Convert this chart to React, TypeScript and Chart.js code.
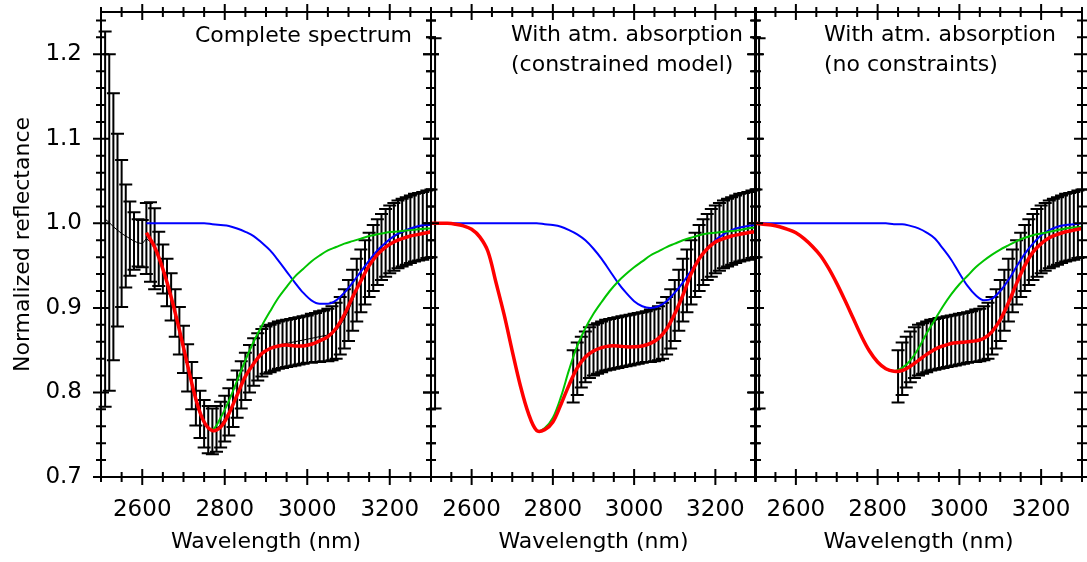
import React, { useEffect, useRef } from "react";
import { Chart, registerables } from "chart.js";

Chart.register(...registerables);
Chart.defaults.font.family = "'DejaVu Sans', sans-serif";
Chart.defaults.color = "#000";

const W = 1087;
const H = 562;

// Axis ranges and ticks
const X_MIN = 2500;
const X_MAX = 3300;
const Y_MIN = 0.7;
const Y_MAX = 1.25;
const X_LABEL_TICKS = [2600, 2800, 3000, 3200];
const X_MINOR_TICKS = [2500, 2550, 2650, 2700, 2750, 2850, 2900, 2950, 3050, 3100, 3150, 3250, 3300];
const Y_LABEL_TICKS = [0.7, 0.8, 0.9, 1.0, 1.1, 1.2];
const Y_MINOR_TICKS = [0.72, 0.74, 0.76, 0.78, 0.82, 0.84, 0.86, 0.88, 0.92, 0.94, 0.96, 0.98,
  1.02, 1.04, 1.06, 1.08, 1.12, 1.14, 1.16, 1.18, 1.22, 1.24];

// Complete spectrum (panel 1): wavelength, mean, 1-sigma error
const SPEC_WL = [
  2510, 2520, 2530, 2540, 2550, 2560, 2570, 2580, 2590, 2600,
  2610, 2620, 2630, 2640, 2650, 2660, 2670, 2680, 2690, 2700,
  2710, 2720, 2730, 2740, 2750, 2760, 2770, 2780, 2790, 2800,
  2810, 2820, 2830, 2840, 2850, 2860, 2870, 2880, 2890, 2900,
  2910, 2920, 2930, 2940, 2950, 2960, 2970, 2980, 2990, 3000,
  3010, 3020, 3030, 3040, 3050, 3060, 3070, 3080, 3090, 3100,
  3110, 3120, 3130, 3140, 3150, 3160, 3170, 3180, 3190, 3200,
  3210, 3220, 3230, 3240, 3250, 3260, 3270, 3280, 3290, 3300,
];
const SPEC_MEAN = [
  1.005, 1.001, 0.996, 0.992, 0.988, 0.985, 0.982, 0.979, 0.977, 0.976,
  0.982, 0.978, 0.970, 0.958, 0.946, 0.930, 0.913, 0.894, 0.873, 0.851,
  0.829, 0.808, 0.789, 0.774, 0.763, 0.756, 0.754, 0.757, 0.762, 0.769,
  0.777, 0.787, 0.798, 0.809, 0.819, 0.828, 0.836, 0.842, 0.847, 0.850,
  0.852, 0.854, 0.856, 0.857, 0.858, 0.859, 0.860, 0.861, 0.862, 0.863,
  0.864, 0.865, 0.866, 0.867, 0.868, 0.870, 0.873, 0.879, 0.887, 0.897,
  0.909, 0.921, 0.932, 0.942, 0.951, 0.959, 0.966, 0.972, 0.977, 0.981,
  0.984, 0.987, 0.989, 0.991, 0.993, 0.995, 0.996, 0.997, 0.999, 1.000,
];
const SPEC_ERR = [
  0.222, 0.199, 0.158, 0.114, 0.087, 0.061, 0.044, 0.034, 0.028, 0.028,
  0.042, 0.047, 0.048, 0.032, 0.029, 0.028, 0.028, 0.028, 0.028, 0.028,
  0.028, 0.028, 0.028, 0.028, 0.028, 0.028, 0.027, 0.027, 0.027, 0.027,
  0.028, 0.028, 0.028, 0.028, 0.028, 0.028, 0.028, 0.028, 0.028, 0.028,
  0.028, 0.028, 0.028, 0.028, 0.028, 0.028, 0.028, 0.028, 0.028, 0.028,
  0.029, 0.029, 0.030, 0.030, 0.031, 0.032, 0.033, 0.034, 0.035, 0.036,
  0.036, 0.037, 0.037, 0.038, 0.038, 0.039, 0.039, 0.039, 0.040, 0.040,
  0.040, 0.040, 0.040, 0.040, 0.040, 0.040, 0.040, 0.040, 0.040, 0.040,
];

// Spectrum with atmospheric absorption region removed (panels 2 and 3)
const ATM_WL = [
  2510,
  2850, 2860, 2870, 2880, 2890, 2900, 2910, 2920, 2930, 2940,
  2950, 2960, 2970, 2980, 2990, 3000, 3010, 3020, 3030, 3040,
  3050, 3060, 3070, 3080, 3090, 3100, 3110, 3120, 3130, 3140,
  3150, 3160, 3170, 3180, 3190, 3200, 3210, 3220, 3230, 3240,
  3250, 3260, 3270, 3280, 3290, 3300,
];
const ATM_MEAN = [
  1.000,
  0.819, 0.828, 0.836, 0.842, 0.847, 0.850, 0.852, 0.854, 0.856, 0.857,
  0.858, 0.859, 0.860, 0.861, 0.862, 0.863, 0.864, 0.865, 0.866, 0.867,
  0.868, 0.870, 0.873, 0.879, 0.887, 0.897, 0.909, 0.921, 0.932, 0.942,
  0.951, 0.959, 0.966, 0.972, 0.977, 0.981, 0.984, 0.987, 0.989, 0.991,
  0.993, 0.995, 0.996, 0.997, 0.999, 1.000,
];
const ATM_ERR = [
  0.219,
  0.031, 0.031, 0.030, 0.030, 0.030, 0.030, 0.030, 0.030, 0.030, 0.030,
  0.030, 0.030, 0.030, 0.030, 0.030, 0.030, 0.030, 0.030, 0.030, 0.031,
  0.031, 0.032, 0.033, 0.034, 0.035, 0.036, 0.036, 0.037, 0.037, 0.038,
  0.038, 0.039, 0.039, 0.039, 0.040, 0.040, 0.040, 0.040, 0.040, 0.040,
  0.040, 0.040, 0.040, 0.040, 0.040, 0.040,
];

// Model curves, panel 1
const M1_WL = [
  2610, 2630, 2650, 2670, 2690, 2710, 2730, 2750, 2770, 2790,
  2810, 2830, 2850, 2870, 2890, 2910, 2930, 2950, 2970, 2990,
  3010, 3030, 3050, 3070, 3090, 3110, 3130, 3150, 3170, 3190,
  3210, 3230, 3250, 3270, 3290, 3300,
];
const RED1 = [
  0.989, 0.972, 0.946, 0.913, 0.874, 0.832, 0.792, 0.765, 0.755, 0.759,
  0.775, 0.797, 0.819, 0.834, 0.846, 0.852, 0.855, 0.856, 0.855, 0.855,
  0.857, 0.861, 0.866, 0.876, 0.892, 0.913, 0.932, 0.950, 0.963, 0.972,
  0.978, 0.982, 0.985, 0.987, 0.989, 0.990,
];
const GREEN1 = [
  0.989, 0.972, 0.946, 0.913, 0.874, 0.832, 0.792, 0.765, 0.756, 0.770,
  0.790, 0.814, 0.838, 0.860, 0.879, 0.896, 0.912, 0.925, 0.937, 0.946,
  0.955, 0.962, 0.968, 0.972, 0.976, 0.979, 0.982, 0.985, 0.987, 0.989,
  0.990, 0.991, 0.992, 0.993, 0.994, 0.994,
];
const BLUE1 = [
  1.000, 1.000, 1.000, 1.000, 1.000, 1.000, 1.000, 1.000, 0.999, 0.998,
  0.997, 0.994, 0.990, 0.985, 0.977, 0.968, 0.956, 0.943, 0.930, 0.918,
  0.909, 0.905, 0.905, 0.909, 0.918, 0.930, 0.943, 0.956, 0.968, 0.977,
  0.985, 0.990, 0.994, 0.997, 0.998, 0.998,
];

// Model curves, panels 2 and 3
const M_WL = [
  2500, 2520, 2540, 2560, 2580, 2600, 2620, 2640, 2660, 2680,
  2700, 2720, 2740, 2760, 2780, 2800, 2820, 2840, 2860, 2880,
  2900, 2920, 2940, 2960, 2980, 3000, 3020, 3040, 3060, 3080,
  3100, 3120, 3140, 3160, 3180, 3200, 3220, 3240, 3260, 3280,
  3300,
];
const RED2 = [
  1.000, 1.000, 1.000, 0.999, 0.997, 0.993, 0.984, 0.967, 0.930, 0.892,
  0.849, 0.808, 0.775, 0.755, 0.756, 0.765, 0.786, 0.809, 0.829, 0.842,
  0.849, 0.853, 0.855, 0.855, 0.854, 0.854, 0.855, 0.858, 0.864, 0.875,
  0.893, 0.915, 0.940, 0.958, 0.970, 0.978, 0.982, 0.985, 0.987, 0.989,
  0.990,
];
const GREEN2 = [
  1.000, 1.000, 1.000, 0.999, 0.997, 0.993, 0.984, 0.967, 0.930, 0.892,
  0.849, 0.808, 0.775, 0.755, 0.758, 0.770, 0.795, 0.827, 0.855, 0.876,
  0.893, 0.907, 0.920, 0.931, 0.940, 0.948, 0.955, 0.962, 0.967, 0.972,
  0.976, 0.980, 0.983, 0.986, 0.988, 0.989, 0.990, 0.991, 0.992, 0.994,
  0.995,
];
const BLUE2 = [
  1.000, 1.000, 1.000, 1.000, 1.000, 1.000, 1.000, 1.000, 1.000, 1.000,
  1.000, 1.000, 1.000, 1.000, 0.999, 0.998, 0.996, 0.992, 0.987, 0.980,
  0.970, 0.958, 0.944, 0.930, 0.918, 0.908, 0.902, 0.900, 0.902, 0.908,
  0.918, 0.930, 0.944, 0.958, 0.970, 0.980, 0.987, 0.992, 0.995, 0.997,
  0.998,
];
const RED3 = [
  1.000, 0.999, 0.998, 0.996, 0.993, 0.989, 0.982, 0.973, 0.962, 0.947,
  0.929, 0.909, 0.888, 0.867, 0.849, 0.836, 0.828, 0.825, 0.826, 0.831,
  0.838, 0.845, 0.851, 0.855, 0.858, 0.859, 0.860, 0.861, 0.864, 0.872,
  0.886, 0.906, 0.929, 0.950, 0.966, 0.976, 0.983, 0.987, 0.990, 0.992,
  0.994,
];
const GREEN3 = [
  1.000, 0.999, 0.998, 0.996, 0.993, 0.989, 0.982, 0.973, 0.962, 0.947,
  0.929, 0.909, 0.888, 0.867, 0.849, 0.836, 0.828, 0.825, 0.829, 0.838,
  0.852, 0.870, 0.886, 0.902, 0.916, 0.928, 0.938, 0.948, 0.956, 0.963,
  0.969, 0.974, 0.979, 0.983, 0.986, 0.988, 0.990, 0.992, 0.994, 0.995,
  0.996,
];
const BLUE3 = [
  1.000, 1.000, 1.000, 1.000, 1.000, 1.000, 1.000, 1.000, 1.000, 1.000,
  1.000, 1.000, 1.000, 1.000, 1.000, 1.000, 1.000, 0.999, 0.999, 0.997,
  0.994, 0.989, 0.982, 0.970, 0.957, 0.941, 0.926, 0.915, 0.909, 0.911,
  0.920, 0.933, 0.949, 0.964, 0.976, 0.986, 0.992, 0.996, 0.998, 0.999,
  1.000,
];

const PANEL_TITLES = [
  ["Complete spectrum"],
  ["With atm. absorption", "(constrained model)"],
  ["With atm. absorption", "(no constraints)"],
];

type Pt = { x: number; y: number };
const pts = (xs: number[], ys: number[]): Pt[] => xs.map((x, i) => ({ x, y: ys[i] }));

const RED = "#ff0000";
const GREEN = "#00c400";
const BLUE = "#0000ff";

function curve(label: string, xs: number[], ys: number[], color: string, width: number, smooth = true) {
  return {
    label,
    data: pts(xs, ys),
    borderColor: color,
    backgroundColor: color,
    borderWidth: width,
    pointRadius: 0,
    fill: false,
    cubicInterpolationMode: smooth ? ("default" as const) : ("monotone" as const),
    tension: 0.35,
  };
}

function errorBarPlugin(wl: number[], mean: number[], err: number[]) {
  return {
    id: "errbars",
    beforeDatasetsDraw(chart: any) {
      const { ctx, scales } = chart;
      const xs = scales.x;
      const ys = scales.y;
      ctx.save();
      ctx.strokeStyle = "#000";
      ctx.lineCap = "butt";
      ctx.lineWidth = 2;
      ctx.beginPath();
      wl.forEach((w, i) => {
        const px = xs.getPixelForValue(w);
        ctx.moveTo(px, ys.getPixelForValue(mean[i] + err[i]));
        ctx.lineTo(px, ys.getPixelForValue(mean[i] - err[i]));
      });
      ctx.stroke();
      ctx.lineWidth = 2;
      ctx.beginPath();
      wl.forEach((w, i) => {
        const px = xs.getPixelForValue(w);
        const t = ys.getPixelForValue(mean[i] + err[i]);
        const b = ys.getPixelForValue(mean[i] - err[i]);
        ctx.moveTo(px - 6.5, t);
        ctx.lineTo(px + 6.5, t);
        ctx.moveTo(px - 6.5, b);
        ctx.lineTo(px + 6.5, b);
      });
      ctx.stroke();
      ctx.restore();
    },
  };
}

const framePlugin = {
  id: "frame",
  afterDatasetsDraw(chart: any) {
    const { ctx, chartArea: a, scales } = chart;
    const xs = scales.x;
    const ys = scales.y;
    ctx.save();
    ctx.strokeStyle = "#000";
    ctx.lineWidth = 2;
    ctx.strokeRect(a.left, a.top, a.right - a.left, a.bottom - a.top);
    ctx.beginPath();
    const vt = (v: number, len: number) => {
      const p = xs.getPixelForValue(v);
      ctx.moveTo(p, a.top - len);
      ctx.lineTo(p, a.top + len);
      ctx.moveTo(p, a.bottom - len);
      ctx.lineTo(p, a.bottom + len);
    };
    const ht = (v: number, len: number) => {
      const p = ys.getPixelForValue(v);
      ctx.moveTo(a.left - len, p);
      ctx.lineTo(a.left + len, p);
      ctx.moveTo(a.right - len, p);
      ctx.lineTo(a.right + len, p);
    };
    X_LABEL_TICKS.forEach((v) => vt(v, 8));
    X_MINOR_TICKS.forEach((v) => vt(v, 5));
    Y_LABEL_TICKS.forEach((v) => ht(v, 8));
    Y_MINOR_TICKS.forEach((v) => ht(v, 5));
    ctx.stroke();
    ctx.restore();
  },
};

function titlePlugin(lines: string[], align: "left" | "right", dx: number, dys: number[]) {
  return {
    id: "paneltitle",
    afterDraw(chart: any) {
      const { ctx, chartArea: a } = chart;
      ctx.save();
      ctx.fillStyle = "#000";
      ctx.font = "22px 'DejaVu Sans'";
      ctx.textAlign = align;
      ctx.textBaseline = "alphabetic";
      const x = align === "right" ? a.right - dx : a.left + dx;
      lines.forEach((t, i) => ctx.fillText(t, x, a.top + dys[i]));
      ctx.restore();
    },
  };
}

type PanelSpec = {
  left: number;
  right: number;
  showY: boolean;
  datasets: any[];
  plugins: any[];
};

function Panel({ spec }: { spec: PanelSpec }) {
  const ref = useRef<HTMLCanvasElement | null>(null);
  useEffect(() => {
    if (!ref.current) return;
    const chart = new Chart(ref.current, {
      type: "line",
      data: { datasets: spec.datasets },
      options: {
        animation: false,
        responsive: false,
        devicePixelRatio: 1,
        events: [],
        layout: { padding: { left: spec.showY ? 0 : spec.left, right: W - spec.right, top: 12, bottom: 0 } },
        plugins: { legend: { display: false }, tooltip: { enabled: false } },
        scales: {
          x: {
            type: "linear",
            min: X_MIN,
            max: X_MAX,
            grid: { display: false, drawTicks: false },
            border: { display: false },
            afterBuildTicks: (s: any) => {
              s.ticks = X_LABEL_TICKS.map((v) => ({ value: v }));
            },
            afterFit: (s: any) => {
              s.height = 85;
              s.paddingLeft = 0;
              s.paddingRight = 0;
            },
            ticks: {
              font: { size: 23 },
              color: "#000",
              padding: 19,
              maxRotation: 0,
              autoSkip: false,
              callback: (v: any) => String(v),
            },
            title: {
              display: true,
              text: "Wavelength (nm)",
              font: { size: 22 },
              color: "#000",
              padding: { top: 0, bottom: 7 },
            },
          },
          y: {
            type: "linear",
            display: spec.showY,
            min: Y_MIN,
            max: Y_MAX,
            grid: { display: false, drawTicks: false },
            border: { display: false },
            afterBuildTicks: (s: any) => {
              s.ticks = Y_LABEL_TICKS.map((v) => ({ value: v }));
            },
            afterFit: (s: any) => {
              if (spec.showY) s.width = spec.left;
              s.paddingTop = 0;
              s.paddingBottom = 0;
            },
            ticks: {
              font: { size: 23 },
              color: "#000",
              padding: 19,
              autoSkip: false,
              callback: (v: any) => Number(v).toFixed(1),
            },
            title: {
              display: true,
              text: "Normalized reflectance",
              font: { size: 22 },
              color: "#000",
              padding: { top: 10, bottom: 0 },
            },
          },
        },
      } as any,
      plugins: spec.plugins,
    });
    return () => chart.destroy();
  }, [spec]);
  return (
    <canvas
      ref={ref}
      width={W}
      height={H}
      style={{ position: "absolute", left: 0, top: 0, width: W, height: H }}
    />
  );
}

const PANELS: PanelSpec[] = [
  {
    left: 101,
    right: 431,
    showY: true,
    datasets: [
      curve("Model", M1_WL, RED1, RED, 3.5),
      curve("Band 1", M1_WL, GREEN1, GREEN, 2),
      curve("Band 2", M1_WL, BLUE1, BLUE, 2, false),
      { ...curve("Data", SPEC_WL, SPEC_MEAN, "#000", 1), tension: 0 },
    ],
    plugins: [errorBarPlugin(SPEC_WL, SPEC_MEAN, SPEC_ERR), framePlugin, titlePlugin(PANEL_TITLES[0], "right", 19, [30])],
  },
  {
    left: 431,
    right: 756,
    showY: false,
    datasets: [
      curve("Model", M_WL, RED2, RED, 3.5),
      curve("Band 1", M_WL, GREEN2, GREEN, 2),
      curve("Band 2", M_WL, BLUE2, BLUE, 2, false),
    ],
    plugins: [errorBarPlugin(ATM_WL, ATM_MEAN, ATM_ERR), framePlugin, titlePlugin(PANEL_TITLES[1], "left", 80, [29, 59])],
  },
  {
    left: 755,
    right: 1082,
    showY: false,
    datasets: [
      curve("Model", M_WL, RED3, RED, 3.5),
      curve("Band 1", M_WL, GREEN3, GREEN, 2),
      curve("Band 2", M_WL, BLUE3, BLUE, 2, false),
    ],
    plugins: [errorBarPlugin(ATM_WL, ATM_MEAN, ATM_ERR), framePlugin, titlePlugin(PANEL_TITLES[2], "left", 69, [29, 59])],
  },
];

export default function App() {
  return (
    <div style={{ position: "absolute", left: 0, top: 0, width: W, height: H, background: "#fff" }}>
      {PANELS.map((p, i) => (
        <Panel key={i} spec={p} />
      ))}
    </div>
  );
}
